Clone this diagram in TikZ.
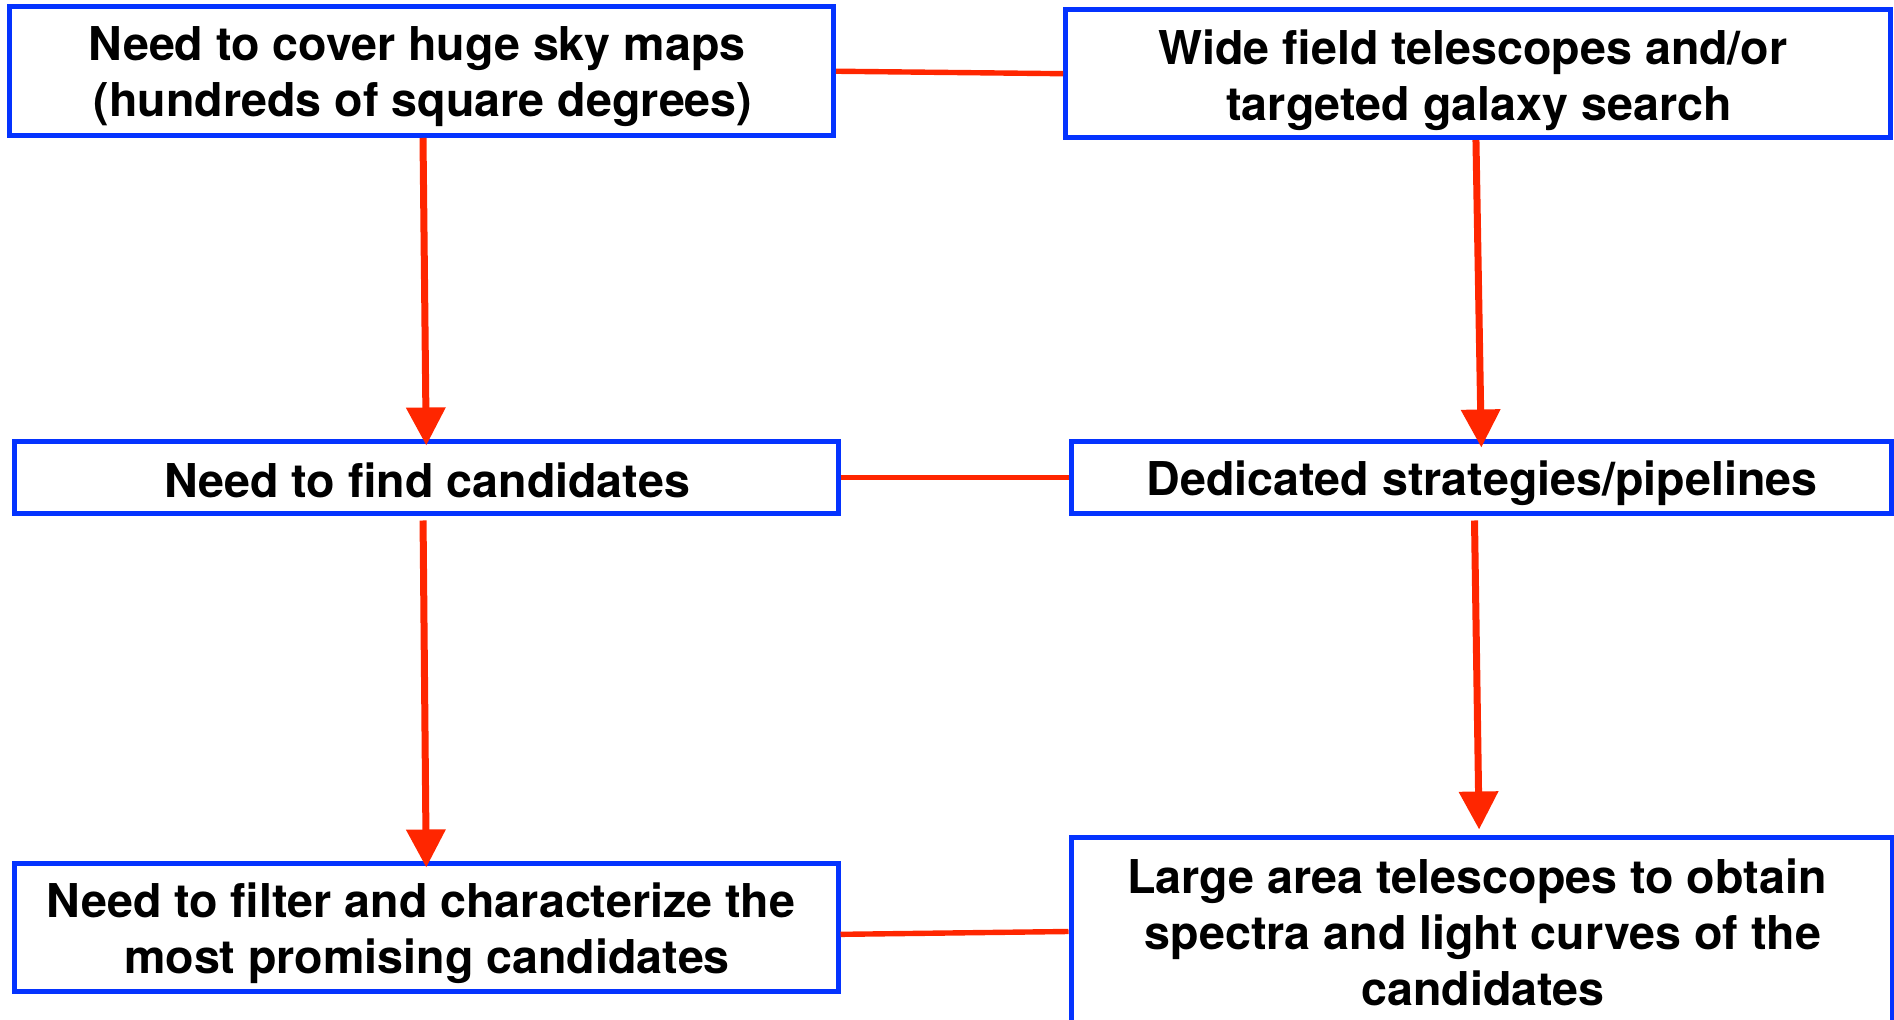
\documentclass[tikz,border=0pt]{standalone}
\usepackage{fontspec}
\setmainfont{TeX Gyre Heros}
\usetikzlibrary{arrows.meta}
\definecolor{boxblue}{HTML}{0433FF}
\definecolor{linkred}{HTML}{FF2600}
\newcommand{\trail}{\hspace*{6pt}}
\begin{document}
\begin{tikzpicture}[x=0.5pt,y=-0.5pt,
  box/.style={draw=boxblue, line width=2.5pt, inner sep=0pt},
  boxtext/.style={inner sep=0pt, align=center, font=\fontsize{23.3pt}{28pt}\selectfont\bfseries},
  link/.style={draw=linkred, line width=2.7pt},
  flow/.style={draw=linkred, line width=3.5pt, -{Triangle[width=19pt,length=19pt]}}]
\useasboundingbox (0,0) rectangle (1894,1020);
\clip (0,0) rectangle (1894,1020);
% boxes
\node[box, minimum width=411.9pt, minimum height=64.25pt] (b1) at (421.6,71.25) {};
\node[box, minimum width=412.25pt, minimum height=64pt] (b2) at (1477.75,73.7) {};
\node[box, minimum width=411.75pt, minimum height=36pt] (b3) at (426.25,477.5) {};
\node[box, minimum width=410.3pt, minimum height=36pt] (b4) at (1481.3,477.5) {};
\node[box, minimum width=411.75pt, minimum height=64.35pt] (b5) at (426.25,927.35) {};
\node[box, minimum width=410.5pt, minimum height=92.5pt] (b6) at (1481.5,929.5) {};
% texts
\node[boxtext] (t1) at (423,77) {Need to cover huge sky maps\trail\\(hundreds of square degrees)};
\node[boxtext] (t2) at (1479,80) {Wide field telescopes and/or\trail\\targeted galaxy search};
\node[boxtext] (t3) at (427,480) {Need to find candidates};
\node[boxtext] (t4) at (1482,483.5) {Dedicated strategies/pipelines};
\node[boxtext] (t5) at (427,933.5) {Need to filter and characterize the\trail\\most promising candidates};
\node[boxtext] (t6) at (1483,932) {Large area telescopes to obtain\trail\\spectra and light curves of the\trail\\candidates};
% horizontal links
\draw[link] (b1.east) -- (b2.west);
\draw[link] (b3.east) -- (b4.west);
\draw[link] ([yshift=-3.5pt]b5.east) -- ([yshift=-1pt]b6.west);
% vertical arrows
\draw[flow] ([xshift=0.7pt]b1.south) -- ([yshift=-3.25pt]b3.north);
\draw[flow] ([xshift=-0.9pt]b2.south) -- ([yshift=-4.25pt]b4.north);
\draw[flow] ([xshift=-1.6pt,yshift=-2.25pt]b3.south) -- ([yshift=-3.5pt]b5.north);
\draw[flow] ([xshift=-3.4pt,yshift=-2.25pt]b4.south) -- ([xshift=-1.2pt,yshift=2.5pt]b6.north);
\end{tikzpicture}
\end{document}
